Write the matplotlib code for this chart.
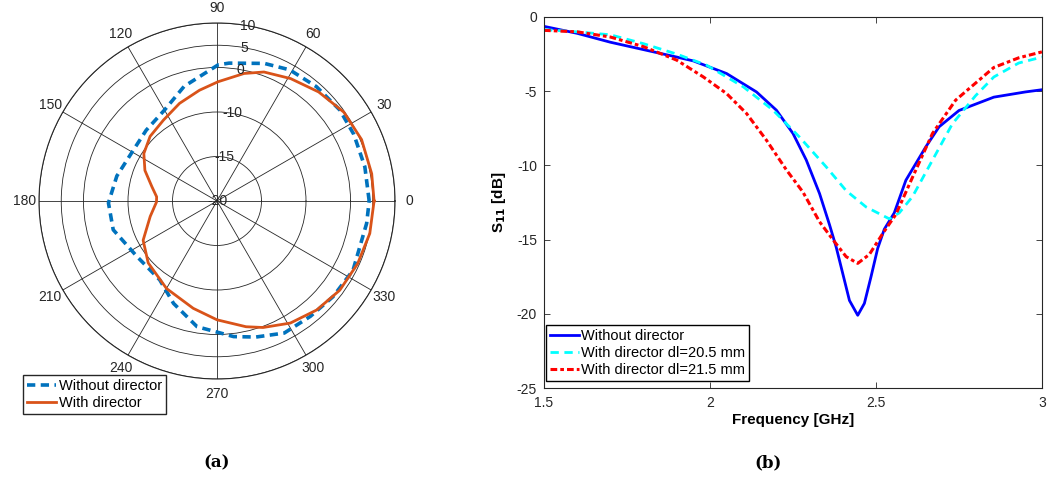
import numpy as np
import matplotlib
matplotlib.use("Agg")
import matplotlib.pyplot as plt

plt.rcParams['font.family'] = ['Liberation Sans', 'DejaVu Sans']
plt.rcParams['axes.unicode_minus'] = False

# ---------------- (a) radiation pattern, values in dB as read on the labelled rings
ang_without = [0, 13, 26, 36.5, 49, 61, 71, 85, 89.5, 106, 120, 135, 148.5, 166, 181,
               195.5, 214.5, 234, 247, 261, 277, 286, 297, 309, 320.5, 333, 351.5, 360]
without_db = [4.2, 4.1, 4.2, 4.35, 4.05, 3.7, 2.7, 1.1, 0.6, -3.2, -6.4, -7.5, -8.0, -6.8,
              -5.6, -5.8, -8.1, -8.1, -5.0, -1.4, 0.7, 1.8, 3.3, 3.35, 3.8, 4.3, 4.0, 4.2]
ang_with = [0, 10, 23, 35, 47, 59, 70, 78, 89.5, 99, 111, 123.5, 136, 147, 157, 167.5,
            176, 181, 193, 208, 222, 240, 257.5, 270, 283, 290, 301, 312.5, 324, 336,
            348, 360]
with_db = [5.3, 5.3, 5.3, 4.8, 3.5, 2.1, 0.85, -0.7, -3.2, -4.8, -6.5, -8.2, -9.1, -10.2,
           -11.2, -12.5, -13.2, -13.2, -12.3, -10.6, -9.2, -7.3, -5.3, -3.3, -1.0, 0.25,
           2.0, 3.2, 4.1, 4.6, 5.1, 5.3]

ring_db = [-20, -15, -10, 0, 5, 10]
ring_pos = [0, 0.25, 0.5, 0.75, 0.875, 1.0]

# ---------------- (b) S11 vs frequency
freq_a = [1.5, 1.6, 1.7, 1.8, 1.9, 1.95, 2.05, 2.14, 2.2, 2.25, 2.29, 2.33, 2.36, 2.38,
          2.40, 2.42, 2.445, 2.465, 2.485, 2.505, 2.525, 2.555, 2.59, 2.65, 2.69, 2.75,
          2.855, 2.95, 3.0]
s11_without = [-0.63, -1.1, -1.7, -2.2, -2.7, -2.96, -3.81, -5.05, -6.28, -7.85, -9.64,
               -11.9, -14.0, -15.5, -17.3, -19.1, -20.1, -19.3, -17.5, -15.6, -14.3, -13.2,
               -11.0, -8.75, -7.4, -6.3, -5.4, -5.05, -4.9]
freq_b = [1.5, 1.6, 1.7, 1.8, 1.9, 1.99, 2.1, 2.19, 2.27, 2.35, 2.41, 2.47, 2.54, 2.57,
          2.61, 2.67, 2.73, 2.8, 2.855, 2.93, 3.0]
s11_d205 = [-0.85, -1.0, -1.2, -1.8, -2.5, -3.25, -4.7, -6.28, -8.1, -10.1, -11.7, -12.8,
            -13.6, -13.2, -12.1, -9.65, -7.2, -5.3, -4.04, -3.1, -2.7]
freq_c = [1.5, 1.6, 1.7, 1.8, 1.9, 1.98, 2.05, 2.11, 2.17, 2.23, 2.28, 2.33, 2.37, 2.41,
          2.445, 2.48, 2.52, 2.56, 2.61, 2.67, 2.74, 2.855, 2.93, 3.0]
s11_d215 = [-0.9, -1.0, -1.35, -2.0, -2.91, -4.04, -5.16, -6.5, -8.3, -10.3, -11.8, -13.8,
            -15.0, -16.15, -16.6, -16.0, -14.6, -13.3, -10.8, -7.85, -5.6, -3.4, -2.75, -2.35]

fig = plt.figure(figsize=(10.55, 4.79), dpi=100)

# polar panel
ax1 = fig.add_axes([39/1055, 100/479, 356/1055, 356/479], projection='polar')
r_without = np.interp(without_db, ring_db, ring_pos)
r_with = np.interp(with_db, ring_db, ring_pos)
ax1.plot(np.deg2rad(ang_without), r_without, color='#0072BD',
         lw=2.6, ls=(0, (2.3, 1.5)), label='Without director')
ax1.plot(np.deg2rad(ang_with), r_with, color='#D95319',
         lw=2.0, label='With director')
ax1.set_ylim(0, 1)
ax1.set_yticks(ring_pos)
ax1.set_yticklabels([])
for v, p in zip(ring_db, ring_pos):
    ax1.text(np.deg2rad(80), p, str(v), ha='center', va='center', fontsize=10,
             color='#262626')
ax1.set_thetagrids(range(0, 360, 30), [str(a) for a in range(0, 360, 30)],
                   fontsize=10, color='#262626')
ax1.grid(color='#262626', lw=0.6, alpha=1)
ax1.spines['polar'].set_color('#262626')
ax1.spines['polar'].set_linewidth(0.8)
ax1.tick_params(axis='x', pad=0)
ax1.legend(loc='lower left', bbox_to_anchor=(23/1055, 65/479),
           bbox_transform=fig.transFigure, fontsize=10.5, fancybox=False,
           edgecolor='#262626', framealpha=1, borderpad=0.25, labelspacing=0.25,
           handlelength=2.0, handletextpad=0.25, borderaxespad=0)

# S11 panel
ax2 = fig.add_axes([544/1055, 91/479, 498/1055, 371/479])
ax2.plot(freq_a, s11_without, color='#0000FF', lw=2.0, label='Without director')
ax2.plot(freq_b, s11_d205, color='#00FFFF', lw=2.0, ls=(0, (3, 2)),
         label='With director dl=20.5 mm')
ax2.plot(freq_c, s11_d215, color='#FF0000', lw=2.2, ls=(0, (2.2, 1.0, 1.2, 1.0)),
         label='With director dl=21.5 mm')
ax2.set_xlim(1.5, 3)
ax2.set_ylim(-25, 0)
ax2.set_xticks([1.5, 2, 2.5, 3])
ax2.set_xticklabels(['1.5', '2', '2.5', '3'])
ax2.set_yticks([0, -5, -10, -15, -20, -25])
ax2.tick_params(direction='in', top=True, right=True, labelsize=10,
                colors='#262626', length=4, width=0.6)
ax2.tick_params(axis='x', pad=6)
ax2.tick_params(axis='y', pad=5)
for sp in ax2.spines.values():
    sp.set_color('#262626')
    sp.set_linewidth(0.8)
ax2.set_xlabel('Frequency [GHz]', fontsize=11, fontweight='bold', labelpad=2)
ax2.set_ylabel(r'S$_{\mathbf{11}}$ [dB]', fontsize=11, fontweight='bold', labelpad=6)
ax2.legend(loc='lower left', bbox_to_anchor=(0.005, 0.02), fontsize=10.5,
           fancybox=False, edgecolor='black', framealpha=1, borderpad=0.25,
           labelspacing=0.2, handlelength=2.0, handletextpad=0.1, borderaxespad=0)

fig.text(217/1055, 16/479, '(a)', ha='center', va='center', fontsize=12,
         fontweight='bold', family='DejaVu Serif')
fig.text(768/1055, 16/479, '(b)', ha='center', va='center', fontsize=12,
         fontweight='bold', family='DejaVu Serif')

fig.savefig('out.png', dpi=100)
